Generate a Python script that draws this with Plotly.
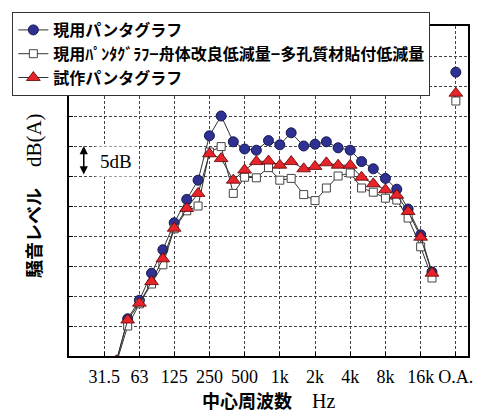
import plotly.graph_objects as go

# 1/3-octave band centre frequencies (Hz) and the overall-value slot one octave above 16 kHz
band_freqs = [40, 50, 63, 80, 100, 125, 160, 200, 250, 315, 400, 500, 630, 800,
              1000, 1250, 1600, 2000, 2500, 3150, 4000, 5000, 6300, 8000,
              10000, 12500, 16000, 20000]
oa_freq = 32000

# octave tick positions and labels
tick_freqs = [31.5, 63, 125, 250, 500, 1000, 2000, 4000, 8000, 16000, oa_freq]
tick_labels = ["31.5", "63", "125", "250", "500", "1k", "2k", "4k", "8k", "16k", "O.A."]

# noise level per band, dB(A)
current = [39.0, 46.2, 49.3, 53.8, 57.7, 62.2, 66.1, 69.3, 76.7, 80.0, 75.7, 74.5, 74.3, 75.9,
           75.2, 77.2, 75.0, 75.3, 75.7, 74.7, 74.3, 72.4, 71.2, 69.6, 67.8, 64.5, 60.2, 54.0]
current_oa = 87.3

reduced = [38.8, 45.0, 48.7, 52.0, 55.2, 61.2, 64.2, 65.0, 74.0, 74.9, 67.1, 69.8, 69.7, 71.4,
           69.3, 69.6, 66.9, 65.9, 68.0, 70.0, 70.5, 68.0, 67.3, 66.3, 66.0, 63.0, 58.2, 53.0]
reduced_oa = 82.5

prototype = [39.2, 46.0, 48.8, 52.4, 56.2, 61.3, 64.6, 67.1, 73.7, 72.9, 69.3, 71.0, 72.4, 72.5,
             71.8, 72.4, 71.2, 71.6, 72.2, 71.8, 71.8, 69.8, 68.7, 67.7, 66.8, 64.1, 59.8, 53.8]
prototype_oa = 83.8

series = [
    ("現用パンタグラフ", current, current_oa,
     dict(symbol="circle", size=10, color="#2e3192", line=dict(color="#15184f", width=1))),
    ("現用ﾊﾟﾝﾀｸﾞﾗﾌ−舟体改良低減量−多孔質材貼付低減量", reduced, reduced_oa,
     dict(symbol="square", size=8, color="white", line=dict(color="#444444", width=1))),
    ("試作パンタグラフ", prototype, prototype_oa,
     dict(symbol="triangle-up", size=12, color="#e8242b", line=dict(color="#5a0000", width=0.8))),
]

fig = go.Figure()
for name, vals, oa, marker in series:
    fig.add_trace(go.Scatter(
        x=band_freqs, y=vals, name=name, mode="lines+markers",
        line=dict(color="#333333", width=1), marker=marker, legendgroup=name,
    ))
    fig.add_trace(go.Scatter(
        x=[oa_freq], y=[oa], name=name, mode="markers", marker=marker,
        legendgroup=name, showlegend=False,
    ))

serif = "Liberation Serif"
cjk = "Noto Sans CJK JP"

fig.update_xaxes(
    type="log", range=[1.1973, 4.609],
    tickvals=tick_freqs, ticktext=tick_labels,
    tickfont=dict(family=serif, size=18, color="black"),
    ticks="inside", ticklen=4, tickcolor="black", ticklabelstandoff=3,
    showline=True, linecolor="black", linewidth=2, mirror=True,
    showgrid=True, gridcolor="#444444", gridwidth=1, griddash="3px,2px",
    zeroline=False,
)
fig.update_yaxes(
    range=[40, 95], tick0=40, dtick=5, showticklabels=False,
    ticks="inside", ticklen=4, tickcolor="black",
    showline=True, linecolor="black", linewidth=2, mirror=True,
    showgrid=True, gridcolor="#444444", gridwidth=1, griddash="3px,2px",
    zeroline=False,
)

fig.add_annotation(
    xref="paper", yref="paper", x=0.501, y=-0.1333, xanchor="center", yanchor="middle",
    text=f'<span style="font-family:{cjk};font-weight:bold;font-size:18px">中心周波数</span>　'
         f'<span style="font-family:{serif}">Hz</span>',
    showarrow=False, borderpad=0, font=dict(size=20, color="black", family=serif),
)
fig.add_annotation(
    xref="paper", yref="paper", x=-0.0898, y=0.485, xanchor="center", yanchor="middle",
    textangle=-90,
    text=f'<span style="font-family:{cjk};font-weight:bold;font-size:18px">騒音レベル</span>　'
         f'<span style="font-family:{serif}">dB(A)</span>',
    showarrow=False, font=dict(size=21, color="black", family=serif),
)

# 5 dB scale marker
fig.add_annotation(
    xref="paper", yref="y", x=0.119, y=72.5, xanchor="center", yanchor="middle",
    text="5dB", showarrow=False, bgcolor="white", borderpad=4,
    font=dict(family=serif, size=19, color="black"),
)
fig.add_annotation(
    xref="paper", yref="y", x=0.037, y=75, axref="pixel", ax=0, ayref="y", ay=70,
    text="", showarrow=True, arrowside="end+start", arrowhead=2, arrowsize=1.1,
    arrowwidth=1.5, arrowcolor="black", standoff=0, startstandoff=0,
)

fig.update_layout(
    width=485, height=414,
    margin=dict(l=69, r=15, t=26, b=58),
    paper_bgcolor="white", plot_bgcolor="white",
    showlegend=True,
    legend=dict(
        x=-0.142, y=1.0424, xanchor="left", yanchor="top",
        bgcolor="white", bordercolor="#333333", borderwidth=1,
        font=dict(family=cjk, size=16, color="black", weight="bold"),
        tracegroupgap=0,
    ),
)

fig.write_html("out.html")
